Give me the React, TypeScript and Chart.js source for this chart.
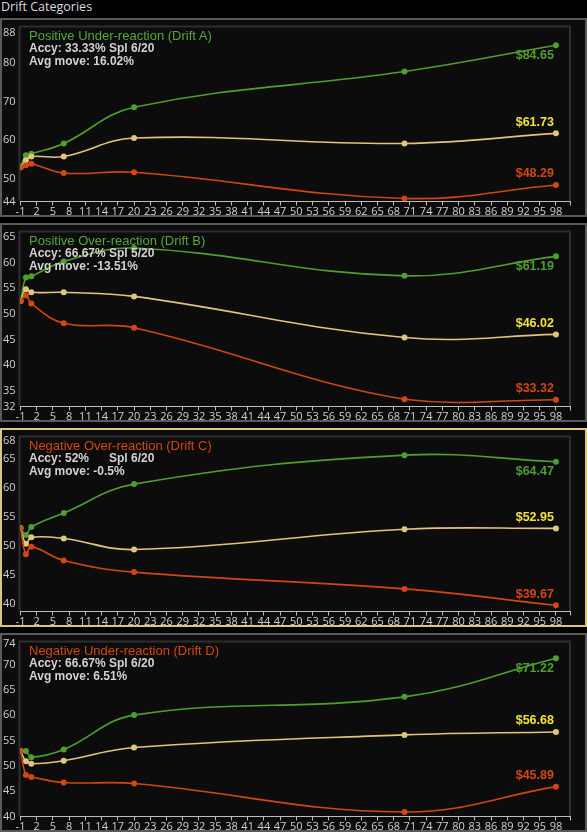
import React, { useEffect, useRef } from 'react';
import { Chart, registerables } from 'chart.js';

Chart.register(...registerables);

// ---- data ----
const days = [-1, 0, 1, 7, 20, 70, 98];
const xTickLabels = [-1, 2, 5, 8, 11, 14, 17, 20, 23, 26, 29, 32, 35, 38, 41, 44, 47, 50, 53, 56, 59, 62, 65, 68, 71, 74, 77, 80, 83, 86, 89, 92, 95, 98];

const aGreen = [52.9, 56.0, 56.4, 59.1, 68.5, 77.8, 84.65];
const aYellow = [52.9, 54.7, 55.7, 55.7, 60.5, 59.1, 61.73];
const aRed = [52.9, 53.4, 53.8, 51.4, 51.6, 44.8, 48.29];
const aTicks = [44, 50, 60, 70, 80, 88];

const bGreen = [52.5, 57.1, 57.3, 60.2, 62.8, 57.4, 61.19];
const bYellow = [52.5, 54.8, 54.2, 54.2, 53.4, 45.4, 46.02];
const bRed = [52.5, 53.6, 52.0, 48.2, 47.3, 33.4, 33.32];
const bTicks = [32, 35, 40, 45, 50, 55, 60, 65];

const cGreen = [53.0, 51.8, 53.2, 55.6, 60.6, 65.6, 64.47];
const cYellow = [53.0, 50.3, 51.4, 51.2, 49.3, 52.8, 52.95];
const cRed = [53.0, 48.5, 49.8, 47.4, 45.4, 42.5, 39.67];
const cTicks = [40, 45, 50, 55, 60, 65, 68];

const dGreen = [52.9, 52.9, 51.7, 53.2, 60.0, 63.6, 71.22];
const dYellow = [52.9, 50.9, 50.4, 51.0, 53.6, 56.1, 56.68];
const dRed = [52.9, 48.2, 47.8, 46.7, 46.5, 40.9, 45.89];
const dTicks = [40, 45, 50, 55, 60, 65, 70, 74];

const panelTitles = ['Positive Under-reaction (Drift A)', 'Positive Over-reaction (Drift B)', 'Negative Over-reaction (Drift C)', 'Negative Under-reaction (Drift D)'];
const panelAccy = ['33.33%', '66.67%', '52%', '66.67%'];
const panelSpl = ['6/20', '5/20', '6/20', '6/20'];
const panelAvg = ['16.02%', '-13.51%', '-0.5%', '6.51%'];
const yMins = [44, 32, 38.6, 40];
const yMaxs = [89.5, 66, 68.8, 74.5];
const X_MIN = -1;
const X_MAX = 100.6;

// ---- styles ----
const GREEN = '#4e9f30';
const TAN = '#e2c47e';
const RED = '#d1470e';
const LABEL_YELLOW = '#f3e334';
const TITLE_GREEN = '#53a839';
const TITLE_RED = '#d4470f';
const TEXT_GRAY = '#d2d2d2';
const TICK_COLOR = '#cfcfcf';

const PANEL_H = 199;
const PANEL_GAP = 6;
const PANEL_TOP = 18;

type PanelDef = {
  title: string;
  titleColor: string;
  accy: string;
  spl: string;
  avg: string;
  series: number[][];
  yMin: number;
  yMax: number;
  yTicks: number[];
  border: string;
};

const panels: PanelDef[] = [
  { title: panelTitles[0], titleColor: TITLE_GREEN, accy: panelAccy[0], spl: panelSpl[0], avg: panelAvg[0], series: [aGreen, aYellow, aRed], yMin: yMins[0], yMax: yMaxs[0], yTicks: aTicks, border: '#5a5a5a' },
  { title: panelTitles[1], titleColor: TITLE_GREEN, accy: panelAccy[1], spl: panelSpl[1], avg: panelAvg[1], series: [bGreen, bYellow, bRed], yMin: yMins[1], yMax: yMaxs[1], yTicks: bTicks, border: '#5a5a5a' },
  { title: panelTitles[2], titleColor: TITLE_RED, accy: panelAccy[2], spl: panelSpl[2], avg: panelAvg[2], series: [cGreen, cYellow, cRed], yMin: yMins[2], yMax: yMaxs[2], yTicks: cTicks, border: '#dcc67e' },
  { title: panelTitles[3], titleColor: TITLE_RED, accy: panelAccy[3], spl: panelSpl[3], avg: panelAvg[3], series: [dGreen, dYellow, dRed], yMin: yMins[3], yMax: yMaxs[3], yTicks: dTicks, border: '#5a5a5a' },
];

const lineColors = [GREEN, TAN, RED];
const labelColors = [GREEN, LABEL_YELLOW, RED];
const labelOffsets = [10, -11, -11];

const framePlugin = {
  id: 'frame',
  beforeDraw(chart: any) {
    const { ctx, chartArea } = chart;
    const { left, top, right, bottom } = chartArea;
    ctx.save();
    ctx.strokeStyle = '#2e2e2e';
    ctx.lineWidth = 2;
    ctx.beginPath();
    ctx.moveTo(left - 1, bottom);
    ctx.lineTo(left - 1, top);
    ctx.lineTo(right, top);
    ctx.lineTo(right, bottom);
    ctx.stroke();
    ctx.restore();
  },
};

const endLabelPlugin = {
  id: 'endLabels',
  afterDatasetsDraw(chart: any) {
    const { ctx } = chart;
    ctx.save();
    ctx.font = 'bold 12.5px "Liberation Sans", Arial, sans-serif';
    ctx.textAlign = 'right';
    ctx.textBaseline = 'middle';
    chart.data.datasets.forEach((ds: any, i: number) => {
      const meta = chart.getDatasetMeta(i);
      const pts = meta.data;
      const last = pts[pts.length - 1];
      const val = ds.data[ds.data.length - 1].y;
      ctx.fillStyle = labelColors[i];
      ctx.fillText('$' + val.toFixed(2), last.x - 2, last.y + labelOffsets[i]);
    });
    ctx.restore();
  },
};

function PanelChart({ def }: { def: PanelDef }) {
  const ref = useRef<HTMLCanvasElement | null>(null);
  useEffect(() => {
    if (!ref.current) return;
    const tickFont = { family: '"Open Sans", sans-serif', size: 11 };
    const chart = new Chart(ref.current, {
      type: 'line',
      data: {
        datasets: def.series.map((vals, i) => ({
          data: days.map((d, j) => ({ x: d, y: vals[j] })),
          borderColor: lineColors[i],
          backgroundColor: lineColors[i],
          pointBackgroundColor: lineColors[i],
          pointBorderWidth: 0,
          pointRadius: 3,
          borderWidth: 1.6,
          tension: 0.4,
          fill: false,
          order: 3 - i,
        })),
      },
      options: {
        animation: false,
        responsive: false,
        maintainAspectRatio: false,
        events: [],
        layout: { padding: { top: 4, left: 1, right: 15, bottom: 0 } },
        plugins: { legend: { display: false }, tooltip: { enabled: false }, title: { display: false } },
        scales: {
          x: {
            type: 'linear',
            min: X_MIN,
            max: X_MAX,
            afterBuildTicks: (s: any) => {
              s.ticks = [...xTickLabels, X_MAX].map((v) => ({ value: v }));
            },
            afterFit: (s: any) => {
              s.height = 13.5;
            },
            ticks: {
              autoSkip: false,
              maxRotation: 0,
              minRotation: 0,
              padding: 0,
              color: TICK_COLOR,
              font: tickFont,
              callback: (v: any) => (xTickLabels.includes(v) ? String(v) : ''),
            },
            grid: { drawOnChartArea: false, drawTicks: true, tickLength: 4, color: '#bdbdbd' },
            border: { display: true, color: '#bdbdbd', width: 1 },
          },
          y: {
            type: 'linear',
            min: def.yMin,
            max: def.yMax,
            afterBuildTicks: (s: any) => {
              s.ticks = def.yTicks.map((v) => ({ value: v }));
            },
            afterFit: (s: any) => {
              s.width = 17.5;
            },
            ticks: {
              autoSkip: false,
              crossAlign: 'far',
              padding: 0,
              color: TICK_COLOR,
              font: tickFont,
            },
            grid: { display: false },
            border: { display: false },
          },
        },
      } as any,
      plugins: [framePlugin, endLabelPlugin],
    });
    return () => chart.destroy();
  }, [def]);

  return <canvas ref={ref} width={583} height={195} style={{ display: 'block', width: 583, height: 195 }} />;
}

function Panel({ def, index }: { def: PanelDef; index: number }) {
  const lineStyle: React.CSSProperties = { height: 12.5, lineHeight: '12.5px', whiteSpace: 'pre' };
  return (
    <div
      style={{
        position: 'absolute',
        left: 0,
        top: PANEL_TOP + index * (PANEL_H + PANEL_GAP),
        width: 587,
        height: PANEL_H,
        boxSizing: 'border-box',
        border: `2px solid ${def.border}`,
        background: '#0c0c0c',
      }}
    >
      <PanelChart def={def} />
      <div
        style={{
          position: 'absolute',
          left: 27,
          top: 9.5,
          fontFamily: '"Liberation Sans", Arial, sans-serif',
          fontSize: 12,
          color: TEXT_GRAY,
          pointerEvents: 'none',
        }}
      >
        <div style={{ ...lineStyle, color: def.titleColor, fontSize: 13 }}>{def.title}</div>
        <div style={{ ...lineStyle, fontWeight: 'bold' }}>
          <span style={{ display: 'inline-block', width: 80 }}>{'Accy: ' + def.accy}</span>
          <span>{'Spl ' + def.spl}</span>
        </div>
        <div style={{ ...lineStyle, fontWeight: 'bold' }}>{'Avg move: ' + def.avg}</div>
      </div>
    </div>
  );
}

export default function App() {
  useEffect(() => {
    document.body.style.margin = '0';
    document.body.style.background = '#000';
  }, []);
  return (
    <div style={{ position: 'relative', width: 587, height: 832, background: '#000', overflow: 'hidden' }}>
      <div
        style={{
          position: 'absolute',
          left: 1,
          top: -2,
          fontFamily: '"Open Sans", sans-serif',
          fontSize: 12.5,
          color: '#dcdcdc',
          lineHeight: '17px',
        }}
      >
        Drift Categories
      </div>
      {panels.map((p, i) => (
        <Panel key={i} def={p} index={i} />
      ))}
    </div>
  );
}
